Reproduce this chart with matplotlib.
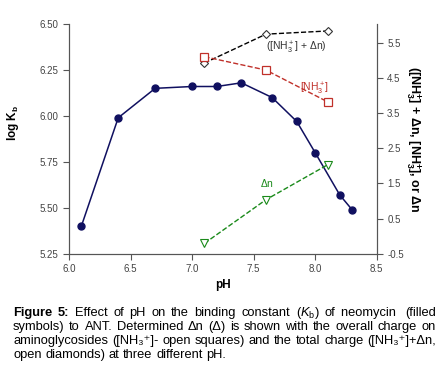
import matplotlib
matplotlib.use("Agg")
import matplotlib.pyplot as plt

plt.rcParams['font.family'] = ['Liberation Sans', 'DejaVu Sans']
plt.rcParams['mathtext.fontset'] = 'custom'
plt.rcParams['mathtext.rm'] = 'Liberation Sans'
plt.rcParams['mathtext.it'] = 'Liberation Sans:italic'
plt.rcParams['mathtext.bf'] = 'Liberation Sans:bold'

# log Kb vs pH (filled symbols, left axis)
ph_kb = [6.1, 6.4, 6.7, 7.0, 7.2, 7.4, 7.65, 7.85, 8.0, 8.2, 8.3]
log_kb = [5.40, 5.99, 6.15, 6.16, 6.16, 6.18, 6.10, 5.97, 5.80, 5.57, 5.49]

# charges at three pH values (open symbols, right axis)
ph_charge = [7.1, 7.6, 8.1]
total_charge = [4.92, 5.74, 5.83]
nh3 = [5.10, 4.72, 3.82]
delta_n = [-0.20, 1.04, 2.03]

left_ticks = [5.25, 5.50, 5.75, 6.00, 6.25, 6.50]
right_ticks = [-0.5, 0.5, 1.5, 2.5, 3.5, 4.5, 5.5]
x_ticks = [6.0, 6.5, 7.0, 7.5, 8.0, 8.5]

caption = [
    ([('Figure', 'bold'), ('5:', 'bold'), ('Effect', None), ('of', None), ('pH', None),
      ('on', None), ('the', None), ('binding', None), ('constant', None),
      (r'($K_{\mathrm{b}}$)', None), ('of', None), ('neomycin ', None), ('(filled', None)], True),
    ([(w, None) for w in 'symbols) to ANT. Determined \u0394n (\u0394) is shown with the overall charge on'.split()], True),
    ([(w, None) for w in 'aminoglycosides ([NH\u2083\u207a]- open squares) and the total charge ([NH\u2083\u207a]+\u0394n,'.split()], True),
    ([(w, None) for w in 'open diamonds) at three different pH.'.split()], False),
]

fig = plt.figure(figsize=(4.48, 3.74), dpi=100)
ax = fig.add_axes([0.154, 0.321, 0.687, 0.615])
ax2 = ax.twinx()

ax.plot(ph_kb, log_kb, color='#101060', lw=1.1, marker='o', ms=5, zorder=3)
ax.set_xlim(6.0, 8.5)
ax.set_ylim(5.25, 6.50)
ax.set_xticks(x_ticks)
ax.set_xticklabels([f"{v:.1f}" for v in x_ticks])
ax.set_yticks(left_ticks)
ax.set_yticklabels([f"{v:.2f}" for v in left_ticks])
ax.set_xlabel('pH', fontsize=8.5, fontweight='bold', labelpad=3)
ax.set_ylabel(r'log K$_\mathbf{b}$', fontsize=8.5, fontweight='bold', labelpad=8)
ax.yaxis.set_label_coords(-0.155, 0.57)

ax2.plot(ph_charge, total_charge, color='black', ls='--', lw=1, marker='D',
         ms=4.5, mfc='white', mec='#333333', mew=0.8)
ax2.plot(ph_charge, nh3, color='#c0302a', ls='--', lw=1, marker='s',
         ms=5.5, mfc='white', mec='#c0302a', mew=0.9)
ax2.plot(ph_charge, delta_n, color='#1a8a1a', ls='--', lw=1, marker='v',
         ms=5.5, mfc='white', mec='#1a8a1a', mew=0.8)
ax2.set_ylim(-0.5, 6.03)
ax2.set_yticks(right_ticks)
ax2.set_yticklabels([f"{v:.1f}" for v in right_ticks])
ax2.set_ylabel(r'([NH$_\mathbf{3}^\mathbf{+}$] + $\mathbf{\Delta}$n, [NH$_\mathbf{3}^\mathbf{+}$], or $\mathbf{\Delta}$n',
               fontsize=9, fontweight='bold', rotation=270, labelpad=14)

for a in (ax, ax2):
    a.spines['top'].set_visible(False)
    for s in a.spines.values():
        s.set_color('#555555')
        s.set_linewidth(0.8)
    a.tick_params(direction='out', length=4, width=0.8, colors='#555555',
                  labelsize=7, labelcolor='#444444')

ax2.text(7.6, 5.28, r'([NH$_3^+$] + $\Delta$n)', fontsize=7.5, color='#333333')
ax2.text(7.88, 4.1, r'[NH$_3^+$]', fontsize=7.5, color='#c0302a')
ax2.text(7.55, 1.4, r'$\Delta$n', fontsize=7.5, color='#1a8a1a')

# caption, justified between x0 and x1 (pixels)
fs = 9.3
fig.canvas.draw()
renderer = fig.canvas.get_renderer()
x0, x1 = 13, 436
y_lines = [316, 330, 344, 358]
probe_a = fig.text(0, 0, 'a a', fontsize=fs)
probe_b = fig.text(0, 0, 'aa', fontsize=fs)
space = probe_a.get_window_extent(renderer).width - probe_b.get_window_extent(renderer).width
probe_a.remove()
probe_b.remove()
for (words, justify), ypix in zip(caption, y_lines):
    texts = []
    for w, weight in words:
        t = fig.text(0, 1 - ypix / 374, w, fontsize=fs, va='baseline',
                     fontweight=weight or 'normal')
        texts.append(t)
    widths = [t.get_window_extent(renderer).width for t in texts]
    if justify and len(texts) > 1:
        gap = (x1 - x0 - sum(widths)) / (len(texts) - 1)
    else:
        gap = space
    x = x0
    for t, wd in zip(texts, widths):
        t.set_x(x / 448)
        x += wd + gap

fig.savefig('out.png', dpi=100)
